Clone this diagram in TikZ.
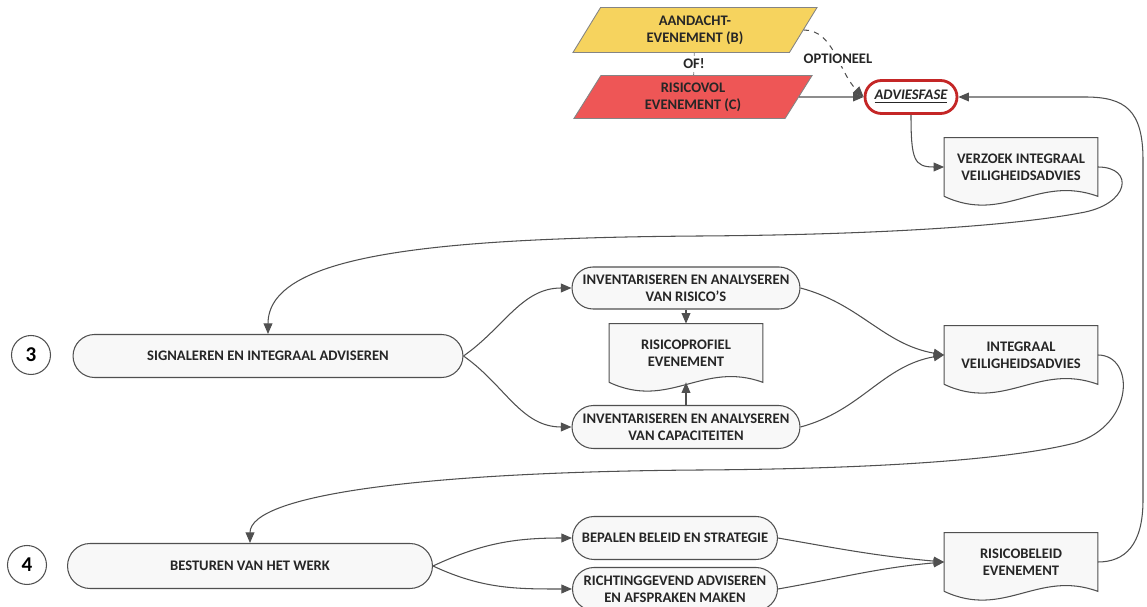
\documentclass[tikz,border=0pt]{standalone}
\usepackage{fontspec}
\setmainfont{Carlito}
\usetikzlibrary{shapes.geometric,shapes.misc,arrows.meta,backgrounds}

\definecolor{lijn}{RGB}{80,80,80}
\definecolor{geel}{RGB}{246,211,94}
\definecolor{rood}{RGB}{238,86,86}
\definecolor{advrood}{RGB}{196,38,38}
\definecolor{vlak}{RGB}{248,248,248}

\tikzset{
	lbl/.style={font=\bfseries\fontsize{8.3}{9.8}\selectfont, text=black!85, align=center},
	pill/.style={lbl, rounded rectangle, draw=lijn, fill=vlak, line width=0.6pt, inner sep=0pt},
	doc/.style={lbl, rectangle, minimum width=3.06cm, minimum height=1.16cm, inner sep=0pt},
	docline/.style={draw=lijn, fill=vlak, line width=0.6pt},
	event/.style={lbl, trapezium, trapezium left angle=64, trapezium right angle=116, trapezium stretches=true, draw=lijn!70, line width=0.5pt, inner sep=0pt},
	num/.style={circle, draw=lijn, line width=0.6pt, minimum size=0.78cm, inner sep=0pt, font=\bfseries\fontsize{12}{12}\selectfont},
	flow/.style={draw=lijn, line width=0.6pt, -{Triangle[length=6pt,width=5pt]}},
}

\begin{document}
\begin{tikzpicture}[x=0.02cm, y=0.02cm]
	\useasboundingbox (0,0) rectangle (1147,-607);
	% evenementen en adviesfase
	\node[event, fill=geel, minimum width=4.9cm, minimum height=0.9cm] (aand) at (695,-30) {AANDACHT-\\EVENEMENT (B)};
	\node[event, fill=rood, minimum width=4.8cm, minimum height=0.86cm] (risv) at (693,-97) {RISICOVOL\\EVENEMENT (C)};
	\node[lbl, rounded rectangle, draw=advrood, line width=1.6pt, fill=white, minimum width=1.84cm, minimum height=0.66cm, inner sep=0pt] (advies) at (911,-97) {\textit{\underline{ADVIESFASE}}};
	\node[doc] (verzoek) at (1021,-167) {VERZOEK INTEGRAAL\\VEILIGHEIDSADVIES};
		% stap 3
		\node[num] (n3) at (31,-355) {3};
		\node[pill, minimum width=7.8cm, minimum height=0.86cm] (sig) at (268,-356) {SIGNALEREN EN INTEGRAAL ADVISEREN};
		\node[pill, minimum width=4.56cm, minimum height=0.84cm] (risico) at (686,-288) {INVENTARISEREN EN ANALYSEREN\\VAN RISICO'S};
		\node[doc] (profiel) at (686,-353) {RISICOPROFIEL\\EVENEMENT};
		\node[pill, minimum width=4.56cm, minimum height=0.86cm] (capac) at (686,-427) {INVENTARISEREN EN ANALYSEREN\\VAN CAPACITEITEN};
		\node[doc] (integraal) at (1021,-355) {INTEGRAAL\\VEILIGHEIDSADVIES};
			% stap 4
			\node[num] (n4) at (27,-565) {4};
			\node[pill, minimum width=7.3cm, minimum height=0.9cm] (best) at (250,-566) {BESTUREN VAN HET WERK};
			\node[pill, minimum width=4.1cm, minimum height=0.86cm] (bepalen) at (675,-538) {BEPALEN BELEID EN STRATEGIE};
			\node[pill, minimum width=4.1cm, minimum height=0.86cm] (richting) at (675,-589) {RICHTINGGEVEND ADVISEREN\\EN AFSPRAKEN MAKEN};
			\node[doc] (beleid) at (1021,-562) {RISICOBELEID\\EVENEMENT};
	% documentvormen
	\begin{scope}[on background layer]
		\foreach \d in {verzoek,profiel,integraal,beleid}
			\draw[docline] (\d.south west) -- (\d.north west) -- (\d.north east) -- (\d.south east) .. controls +(-60,22) and +(60,-28) .. (\d.south west);
	\end{scope}
	\draw[draw=lijn!70, line width=0.5pt] (aand) -- node[lbl, fill=white, inner sep=1.5pt] {OF!} (risv);
	\draw[flow, dashed] (aand.east) .. controls +(30,0) and +(-25,25) .. node[pos=0.55, lbl, fill=white, inner sep=1.5pt] {OPTIONEEL} (advies.west);
	\draw[flow] (risv.east) -- (advies.west);
	\draw[flow] (advies.south) .. controls +(0,-45) and +(-30,0) .. (verzoek.west);
	\draw[flow] (verzoek.east) .. controls (1135,-167) and (1130,-205) .. (1080,-213) .. controls (1000,-228) and (850,-235) .. (700,-236) .. controls (430,-238) and (268,-255) .. (sig.north);
	\draw[flow] (sig.east) to[out=35, in=180] (risico.west);
	\draw[flow] (sig.east) to[out=-35, in=180] (capac.west);
	\draw[flow] (risico.south) -- (profiel.north);
	\draw[flow] (capac.north) -- (profiel.south);
	\draw[flow] (risico.east) to[out=-15, in=170] (integraal.west);
	\draw[flow] (capac.east) to[out=15, in=190] (integraal.west);
	\draw[flow] (integraal.east) .. controls (1135,-355) and (1135,-425) .. (1075,-443) .. controls (1000,-462) and (850,-469) .. (700,-470) .. controls (420,-472) and (250,-495) .. (best.north);
	\draw[flow] (best.east) to[out=25, in=180] (bepalen.west);
	\draw[flow] (best.east) to[out=-25, in=180] (richting.west);
	\draw[flow] (bepalen.east) to[out=-10, in=175] (beleid.west);
	\draw[flow] (richting.east) to[out=10, in=185] (beleid.west);
	\draw[flow] (beleid.east) .. controls (1125,-562) and (1143,-545) .. (1143,-500) -- (1143,-160) .. controls (1143,-110) and (1125,-97) .. (1085,-97) -- (advies.east);
\end{tikzpicture}
\end{document}
